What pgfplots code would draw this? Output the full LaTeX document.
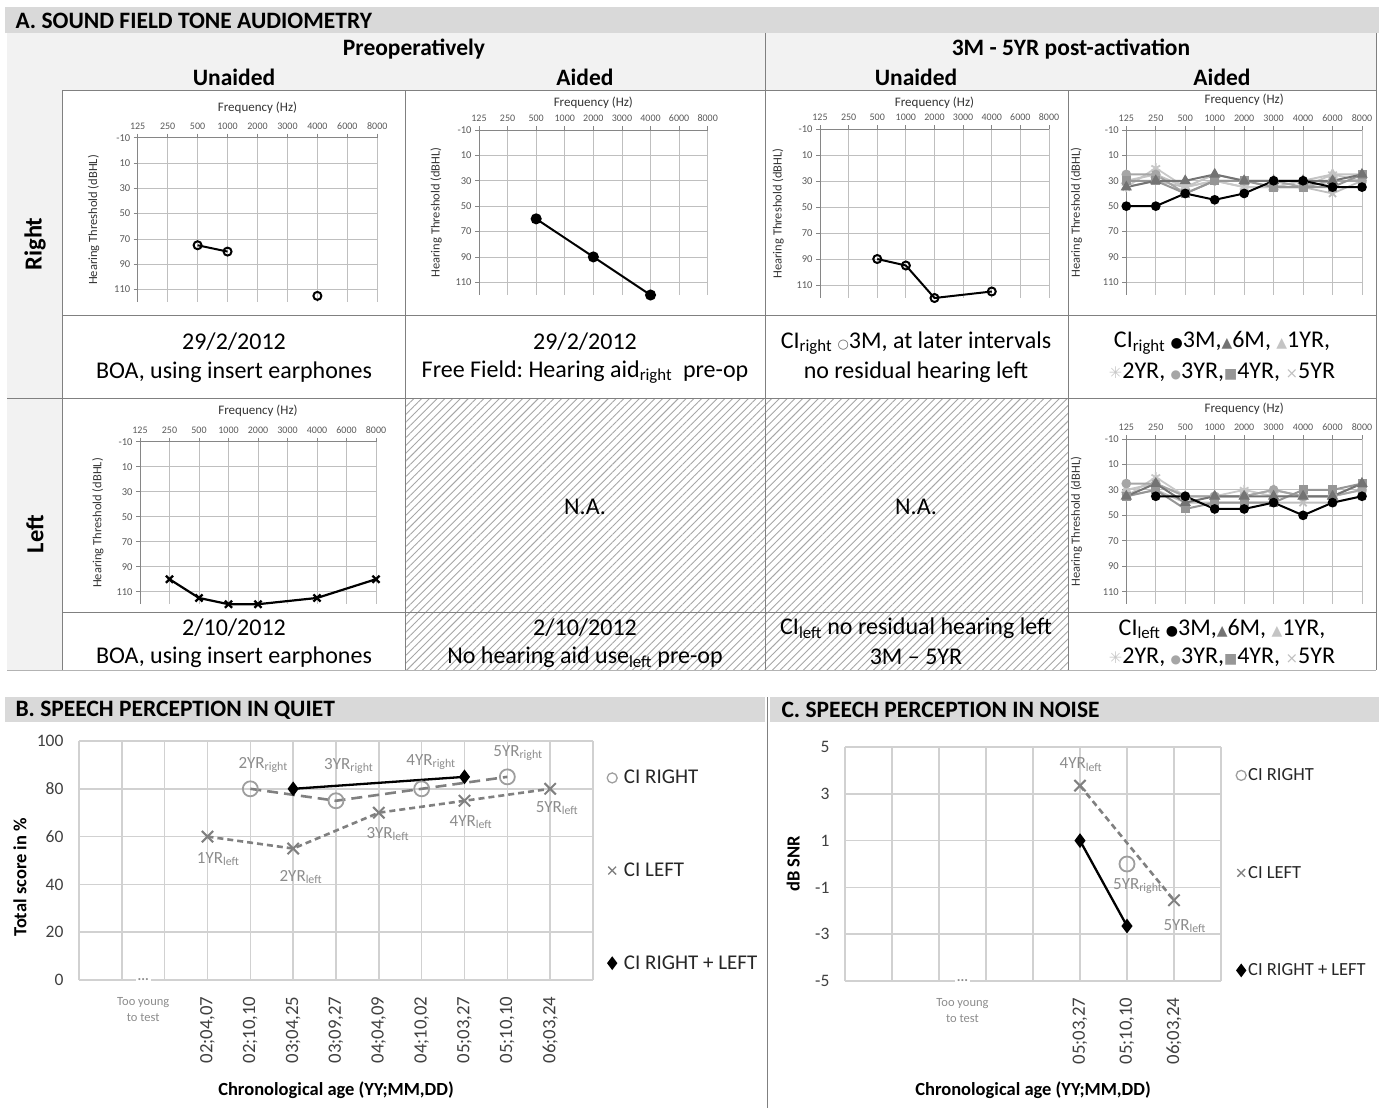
\documentclass[border=0pt]{standalone}
\usepackage{fontspec}
\setmainfont{Carlito}
\newfontfamily\sym{DejaVu Sans}
\usepackage{pgfplots}
\pgfplotsset{compat=1.18}
\usetikzlibrary{patterns.meta}
\frenchspacing

\definecolor{hdr}{HTML}{D9D9D9}
\definecolor{lbg}{HTML}{F2F2F2}
\definecolor{tline}{HTML}{808080}
\definecolor{gridc}{HTML}{BFBFBF}
\definecolor{axc}{HTML}{868686}
\definecolor{txg}{HTML}{595959}
\definecolor{labg}{HTML}{8C8C8C}
\definecolor{cM}{HTML}{737373}
\definecolor{cY}{HTML}{C4C4C4}
\definecolor{cS}{HTML}{C8C8C8}
\definecolor{cC}{HTML}{A6A6A6}
\definecolor{cQ}{HTML}{969696}
\definecolor{cX}{HTML}{BFBFBF}
\newcommand{\fs}[2]{\fontsize{#1}{#2}\selectfont}

\pgfplotsset{
 audio/.style={
  scale only axis, clip=false,
  xmin=0,xmax=8,ymin=-10,ymax=120,y dir=reverse,
  xtick={0,...,8},
  xticklabels={125,250,500,1000,2000,3000,4000,6000,8000},
  ytick={-10,10,30,50,70,90,110},
  grid=major,
  major grid style={draw=gridc, line width=0.8pt},
  axis x line*=top, axis y line*=left,
  axis line style={draw=axc, line width=0.8pt},
  every tick/.style={draw=axc, line width=0.8pt},
  major tick length=4pt, tick align=outside,
  tick label style={font=\fs{10.5}{12}, text=txg},
  xticklabel style={font=\fs{10}{12}},
  xticklabel shift=0.5pt,
  /pgf/number format/assume math mode=true,
  every axis title shift=0pt,
  title={Frequency (Hz)},
  title style={font=\fs{13}{15}, text=black!80, at={(axis description cs:0.5,1)}, anchor=center},
  ylabel={Hearing Threshold (dBHL)},
  ylabel style={font=\fs{12.5}{14}, text=black!80, anchor=center},
 },
 s3M/.style={black, line width=2pt, mark=*, mark size=3.8pt, mark options={solid}},
 s6M/.style={cM, line width=2pt, mark=triangle*, mark size=4.5pt, mark options={solid}},
 s1Y/.style={cY, line width=2pt, mark=triangle*, mark size=4.5pt, mark options={solid}},
 s2Y/.style={cS, line width=1.8pt, mark=asterisk, mark size=5pt, mark options={solid}},
 s3Y/.style={cC, line width=2pt, mark=*, mark size=3.8pt, mark options={solid}},
 s4Y/.style={cQ, line width=2pt, mark=square*, mark size=3.5pt, mark options={solid}},
 s5Y/.style={cX, line width=1.8pt, mark=x, mark size=5pt, mark options={solid}},
 legR/.style={legend image code/.code={\draw[##1, mark size=5pt, mark options={solid, draw=black!38, line width=1.3pt}] plot coordinates {(0pt,0pt)};}},
 legL/.style={legend image code/.code={\draw[##1, mark size=5.5pt, mark options={solid, line width=1.3pt}] plot coordinates {(0pt,0pt)};}},
 legB/.style={legend image code/.code={\draw[##1, mark size=5pt] plot coordinates {(0pt,0pt)};}},
 speech/.style={
  scale only axis, clip=false,
  grid=major, major grid style={draw=black!18, line width=1.5pt},
  axis line style={draw=none}, major tick length=0pt,
  tick label style={font=\fs{17.5}{21}, text=black!75},
  yticklabel shift=12pt,
  /pgf/number format/assume math mode=true,
  xticklabel style={rotate=90, anchor=east, font=\fs{18.8}{22}},
  xticklabel shift=13pt,
  xlabel={Chronological age (YY;MM,DD)},
  xlabel style={font=\bfseries\fs{18.5}{22}, at={(axis description cs:0.5,0)}, anchor=center, yshift=-110pt},
  ylabel style={font=\bfseries\fs{18.5}{22}, anchor=center},
  legend cell align=left,
 },
}

\begin{document}
\begin{tikzpicture}
\useasboundingbox (0pt,0pt) rectangle (1379pt,-1108pt);
\begin{scope}[x=1pt,y=-1pt]
% ---------- section A frame
\fill[hdr] (5,7) rectangle (1379,33);
\node[anchor=west, font=\bfseries\fs{23.5}{27}] at (12,20.5) {A. SOUND FIELD TONE AUDIOMETRY};
\fill[lbg] (7,33) rectangle (1376,90);
\fill[lbg] (7,90) rectangle (62,670);
\fill[pattern={Lines[angle=45,distance=5.5pt,line width=0.9pt]}, pattern color=gray!70] (405,398) rectangle (1068,670);
\draw[tline, line width=0.9pt] (765,33) -- (765,670);
\draw[tline, line width=0.9pt] (62,90) -- (1376,90);
\draw[tline, line width=0.9pt] (62,315) -- (1376,315);
\draw[tline, line width=0.9pt] (7,398) -- (1376,398);
\draw[tline, line width=0.9pt] (62,612) -- (1376,612);
\draw[tline!60, line width=0.9pt] (7,670) -- (1376,670);
\draw[tline, line width=0.9pt] (62,90) -- (62,670);
\draw[tline, line width=0.9pt] (405,90) -- (405,670);
\draw[tline, line width=0.9pt] (1068,90) -- (1068,670);
\draw[tline, line width=0.9pt] (1376,33) -- (1376,670);
% headers
\node[font=\bfseries\fs{23.5}{27}] at (414,49) {Preoperatively};
\node[font=\bfseries\fs{23.5}{27}] at (1071,49) {3M - 5YR post-activation};
\node[font=\bfseries\fs{23.5}{27}] at (234,77) {Unaided};
\node[font=\bfseries\fs{23.5}{27}] at (585,77) {Aided};
\node[font=\bfseries\fs{23.5}{27}] at (916,77) {Unaided};
\node[font=\bfseries\fs{23.5}{27}] at (1222,77) {Aided};
\node[rotate=90, font=\bfseries\fs{24.5}{28}] at (35,244) {Right};
\node[rotate=90, font=\bfseries\fs{24.5}{28}] at (35,534) {Left};
% text rows
\node[font=\fs{24}{28}] at (234,342) {29/2/2012};
\node[font=\fs{24}{28}] at (234,372) {BOA, using insert earphones};
\node[font=\fs{24}{28}] at (585,342) {29/2/2012};
\node[font=\fs{24}{28}] at (585,372) {Free Field: Hearing aid\textsubscript{right}\ \ pre-op};
\node[font=\fs{24}{28}] at (916,343) {CI\textsubscript{right} {\sym\fs{13}{15}\textcolor{black!60}{○}}3M, at later intervals};
\node[font=\fs{24}{28}] at (916,372) {no residual hearing left};
\node[font=\fs{24}{28}] at (1222,343) {CI\textsubscript{right} {\sym\fs{14}{16}●}3M,{\sym\fs{14}{16}\textcolor{cM}{▲}}6M, {\sym\fs{14}{16}\textcolor{cY}{▲}}1YR,};
\node[font=\fs{24}{28}] at (1222,372) {{\sym\fs{16}{16}\textcolor{cS}{✳}}2YR, {\sym\fs{12}{16}\textcolor{cC}{●}}3YR,{\sym\fs{14}{16}\textcolor{cQ}{■}}4YR, {\sym\fs{15}{16}\textcolor{cX}{×}}5YR};
\node[font=\fs{24}{28}] at (234,628) {2/10/2012};
\node[font=\fs{24}{28}] at (234,657) {BOA, using insert earphones};
\node[font=\fs{24}{28}] at (585,628) {2/10/2012};
\node[font=\fs{24}{28}] at (585,657) {No hearing aid use\textsubscript{left} pre-op};
\node[font=\fs{24}{28}] at (916,628) {CI\textsubscript{left} no residual hearing left};
\node[font=\fs{24}{28}] at (916,657) {3M – 5YR};
\node[font=\fs{24}{28}] at (1222,629) {CI\textsubscript{left} {\sym\fs{14}{16}●}3M,{\sym\fs{14}{16}\textcolor{cM}{▲}}6M, {\sym\fs{14}{16}\textcolor{cY}{▲}}1YR,};
\node[font=\fs{24}{28}] at (1222,657) {{\sym\fs{16}{16}\textcolor{cS}{✳}}2YR, {\sym\fs{12}{16}\textcolor{cC}{●}}3YR,{\sym\fs{14}{16}\textcolor{cQ}{■}}4YR, {\sym\fs{15}{16}\textcolor{cX}{×}}5YR};
\node[font=\fs{24}{28}] at (585,507) {N.A.};
\node[font=\fs{24}{28}] at (916,507) {N.A.};
% ---------- sections B and C headers
\fill[hdr] (5,697) rectangle (765,722);
\fill[hdr] (770,697) rectangle (1379,722);
\node[anchor=west, font=\bfseries\fs{23.5}{27}] at (12,710) {B. SPEECH PERCEPTION IN QUIET};
\node[anchor=west, font=\bfseries\fs{23.5}{27}] at (778,710) {C. SPEECH PERCEPTION IN NOISE};
\draw[tline, line width=0.9pt] (767,697) -- (767,1108);
\end{scope}

% ---------- A1: right, preop, unaided
\begin{axis}[audio, at={(137.7pt,-137.7pt)}, anchor=north west, width=239.6pt, height=164.5pt,
  title style={yshift=30pt}, ylabel style={at={(axis description cs:-0.184,0.5)}}]
\addplot[black, line width=2pt, mark=o, mark size=4pt] coordinates {(2,75) (3,80)};
\addplot[black, line width=2pt, mark=o, mark size=4pt, only marks] coordinates {(6,115)};
\end{axis}
% ---------- A2: right, preop, aided
\begin{axis}[audio, at={(479pt,-130pt)}, anchor=north west, width=228.7pt, height=165pt,
  title style={yshift=27pt}, ylabel style={at={(axis description cs:-0.188,0.5)}}]
\addplot[black, line width=2pt, mark=*, mark size=4.5pt] coordinates {(2,60) (4,90) (6,120)};
\end{axis}
% ---------- A3: right, post, unaided
\begin{axis}[audio, at={(820pt,-129pt)}, anchor=north west, width=229pt, height=169pt,
  title style={yshift=26pt}, ylabel style={at={(axis description cs:-0.183,0.5)}}]
\addplot[black, line width=2pt, mark=o, mark size=4pt] coordinates {(2,90) (3,95) (4,120) (6,115)};
\end{axis}
% ---------- A4: right, post, aided
\begin{axis}[audio, at={(1126.3pt,-130pt)}, anchor=north west, width=235.7pt, height=165pt,
  title style={yshift=30pt}, ylabel style={at={(axis description cs:-0.212,0.5)}}]
\addplot[s5Y] coordinates {(0,35)(1,30)(2,35)(3,30)(4,35)(5,35)(6,35)(7,40)(8,30)};
\addplot[s2Y] coordinates {(0,35)(1,20)(2,35)(3,30)(4,35)(5,35)(6,35)(7,25)(8,30)};
\addplot[s1Y] coordinates {(0,30)(1,25)(2,35)(3,25)(4,30)(5,35)(6,30)(7,25)(8,25)};
\addplot[s3Y] coordinates {(0,25)(1,25)(2,40)(3,30)(4,30)(5,30)(6,35)(7,30)(8,30)};
\addplot[s4Y] coordinates {(0,30)(1,30)(2,40)(3,30)(4,30)(5,35)(6,35)(7,35)(8,25)};
\addplot[s6M] coordinates {(0,35)(1,30)(2,30)(3,25)(4,30)(5,30)(6,30)(7,30)(8,25)};
\addplot[s3M] coordinates {(0,50)(1,50)(2,40)(3,45)(4,40)(5,30)(6,30)(7,35)(8,35)};
\end{axis}
% ---------- A5: left, preop, unaided
\begin{axis}[audio, at={(140pt,-441.7pt)}, anchor=north west, width=236pt, height=162.5pt,
  title style={yshift=31pt}, ylabel style={at={(axis description cs:-0.178,0.5)}}]
\addplot[black, line width=2.2pt, mark=x, mark size=5pt] coordinates {(1,100) (2,115) (3,120) (4,120) (6,115) (8,100)};
\end{axis}
% ---------- A6: left, post, aided
\begin{axis}[audio, at={(1126.3pt,-439pt)}, anchor=north west, width=235.7pt, height=165.4pt,
  title style={yshift=30pt}, ylabel style={at={(axis description cs:-0.212,0.5)}}]
\addplot[s5Y] coordinates {(0,35)(1,30)(2,40)(3,40)(4,40)(5,40)(6,40)(7,40)(8,35)};
\addplot[s2Y] coordinates {(0,35)(1,20)(2,35)(3,35)(4,30)(5,35)(6,35)(7,35)(8,30)};
\addplot[s1Y] coordinates {(0,30)(1,25)(2,35)(3,35)(4,35)(5,30)(6,35)(7,35)(8,25)};
\addplot[s3Y] coordinates {(0,25)(1,25)(2,35)(3,35)(4,35)(5,30)(6,35)(7,35)(8,30)};
\addplot[s4Y] coordinates {(0,35)(1,30)(2,45)(3,40)(4,40)(5,40)(6,30)(7,30)(8,25)};
\addplot[s6M] coordinates {(0,35)(1,25)(2,40)(3,35)(4,35)(5,35)(6,35)(7,35)(8,25)};
\addplot[s3M] coordinates {(1,35)(2,35)(3,45)(4,45)(5,40)(6,50)(7,40)(8,35)};
\end{axis}

% ---------- B: speech in quiet
\begin{axis}[speech, at={(79pt,-741pt)}, anchor=north west, width=514pt, height=239pt,
  xmin=0, xmax=12, ymin=0, ymax=100,
  xtick={0,...,12},
  xticklabels={,,,{02;04,07},{02;10,10},{03;04,25},{03;09,27},{04;04,09},{04;10,02},{05;03,27},{05;10,10},{06;03,24},},
  ytick={0,20,...,100},
  ylabel={Total score in \%},
  ylabel style={at={(axis description cs:-0.115,0.43)}},
  legend style={draw=none, fill=none, at={(axis description cs:1,0.458)}, anchor=west, xshift=14pt,
    font=\fs{21}{25}, text=black!85, row sep=73.5pt, inner sep=0pt, nodes={inner sep=2pt}},
]
\addplot[color=black!50, line width=2.6pt, dash pattern=on 11pt off 6pt, mark=o, mark size=7.5pt,
  mark options={solid, draw=black!38, line width=1.8pt}, legR]
  coordinates {(4,80) (6,75) (8,80) (10,85)};
\addlegendentry{\ CI RIGHT}
\addplot[color=black!50, line width=2.6pt, dash pattern=on 6pt off 4pt, mark=x, mark size=8pt,
  mark options={solid, line width=2pt}, legL]
  coordinates {(3,60) (5,55) (7,70) (9,75) (11,80)};
\addlegendentry{\ CI LEFT}
\addplot[black, line width=2.3pt, mark=diamond*, mark size=5.5pt, legB]
  coordinates {(5,80) (9,85)};
\addlegendentry{\ CI RIGHT + LEFT}
\begin{scope}[every node/.style={font=\fs{17}{20}, text=labg, inner sep=0pt}]
\node at (axis cs:4.30,90.0) {2YR\textsubscript{right}};
\node at (axis cs:6.30,89.5) {3YR\textsubscript{right}};
\node at (axis cs:8.22,91.2) {4YR\textsubscript{right}};
\node at (axis cs:10.25,95.0) {5YR\textsubscript{right}};
\node at (axis cs:3.25,50.6) {1YR\textsubscript{left}};
\node at (axis cs:5.18,43.1) {2YR\textsubscript{left}};
\node at (axis cs:7.21,61.1) {3YR\textsubscript{left}};
\node at (axis cs:9.15,66.1) {4YR\textsubscript{left}};
\node at (axis cs:11.16,72.0) {5YR\textsubscript{left}};
\end{scope}
\node[fill=white, text=labg, font=\bfseries\fs{14}{16}, inner sep=2pt] at (axis cs:1.5,0) {...};
\node[anchor=north, align=center, text=labg, font=\fs{12.5}{16}, inner sep=0pt, yshift=-17pt] at (axis cs:1.5,0) {Too young\\to test};
\end{axis}

% ---------- C: speech in noise
\begin{axis}[speech, at={(845pt,-747pt)}, anchor=north west, width=376pt, height=234pt,
  xmin=0, xmax=8, ymin=-5, ymax=5,
  xtick={0,...,8},
  xticklabels={,,,,,{05;03,27},{05;10,10},{06;03,24},},
  ytick={-5,-3,-1,1,3,5},
  ylabel={dB SNR},
  ylabel style={at={(axis description cs:-0.138,0.5)}},
  xlabel style={yshift=1pt},
  legend style={draw=none, fill=none, at={(axis description cs:1,0.462)}, anchor=west, xshift=15pt,
    font=\fs{18.5}{22}, text=black!85, row sep=80pt, inner sep=0pt, nodes={inner sep=2pt}},
]
\addplot[color=black!50, line width=2.6pt, dash pattern=on 11pt off 6pt, mark=o, mark size=7.5pt,
  mark options={solid, draw=black!38, line width=1.8pt}, legR]
  coordinates {(6,0)};
\addlegendentry{CI RIGHT}
\addplot[color=black!50, line width=2.6pt, dash pattern=on 6pt off 4pt, mark=x, mark size=8pt,
  mark options={solid, line width=2pt}, legL]
  coordinates {(5,3.35) (7,-1.55)};
\addlegendentry{CI LEFT}
\addplot[black, line width=2.3pt, mark=diamond*, mark size=5.5pt, legB]
  coordinates {(5,1) (6,-2.65)};
\addlegendentry{CI RIGHT + LEFT}
\begin{scope}[every node/.style={font=\fs{17}{20}, text=labg, inner sep=0pt}]
\node at (axis cs:5.02,4.25) {4YR\textsubscript{left}};
\node at (axis cs:6.23,-0.94) {5YR\textsubscript{right}};
\node at (axis cs:7.23,-2.65) {5YR\textsubscript{left}};
\end{scope}
\node[fill=white, text=labg, font=\bfseries\fs{14}{16}, inner sep=2pt] at (axis cs:2.5,-5) {...};
\node[anchor=north, align=center, text=labg, font=\fs{12.5}{16}, inner sep=0pt, yshift=-17pt] at (axis cs:2.5,-5) {Too young\\to test};
\end{axis}
\end{tikzpicture}
\end{document}
